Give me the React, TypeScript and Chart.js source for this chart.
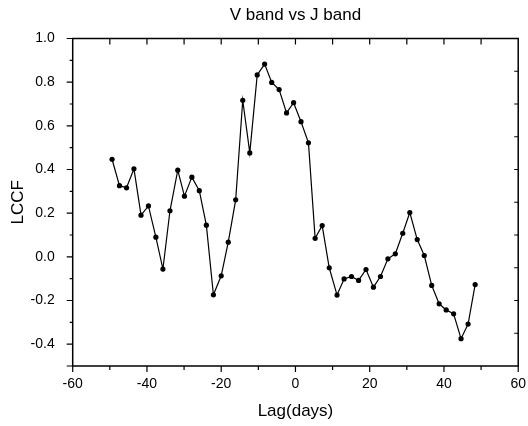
import React, { useEffect, useRef } from "react";
import { Chart, registerables } from "chart.js";

Chart.register(...registerables);

const lags = [-49.4, -47.4, -45.5, -43.5, -41.6, -39.6, -37.6, -35.7, -33.8, -31.7, -29.9, -27.9, -25.9, -24.0, -22.1, -20.0, -18.1, -16.1, -14.2, -12.3, -10.3, -8.3, -6.4, -4.4, -2.4, -0.5, 1.5, 3.5, 5.3, 7.2, 9.1, 11.2, 13.1, 15.1, 17.0, 19.0, 21.0, 22.9, 24.9, 26.9, 28.9, 30.8, 32.8, 34.7, 36.7, 38.7, 40.6, 42.6, 44.6, 46.5, 48.4];
const lccf = [0.447, 0.326, 0.316, 0.403, 0.191, 0.233, 0.090, -0.056, 0.211, 0.397, 0.278, 0.365, 0.303, 0.145, -0.174, -0.087, 0.067, 0.261, 0.717, 0.476, 0.833, 0.883, 0.799, 0.766, 0.659, 0.706, 0.619, 0.522, 0.085, 0.143, -0.050, -0.175, -0.101, -0.090, -0.108, -0.058, -0.139, -0.090, -0.009, 0.014, 0.108, 0.203, 0.079, 0.006, -0.131, -0.215, -0.243, -0.261, -0.375, -0.308, -0.127];
const xTicks = [-60, -40, -20, 0, 20, 40, 60];
const xMinorTicks = [-50, -30, -10, 10, 30, 50];
const yTicks = [-0.4, -0.2, 0.0, 0.2, 0.4, 0.6, 0.8, 1.0];
const yMinorTicks = [-0.3, -0.1, 0.1, 0.3, 0.5, 0.7, 0.9];
const topTicks = [-50, -40, -30, -20, -10, 0, 10, 20, 30, 40, 50];
const rightTicks = [0.85, 0.7, 0.55, 0.4, 0.25, 0.1, -0.05, -0.2, -0.35];
const titleText = "V band vs J band";
const xTitle = "Lag(days)";
const yTitle = "LCCF";

const FONT = "'Liberation Sans', Arial, sans-serif";

const framePlugin = {
  id: "frame",
  afterDraw(chart: any) {
    const { ctx, chartArea, scales } = chart;
    const { left, right, top, bottom } = chartArea;
    const xs = scales.x;
    const ys = scales.y;
    ctx.save();
    ctx.strokeStyle = "#000";
    ctx.lineWidth = 1.5;
    ctx.strokeRect(left, top, right - left, bottom - top);
    ctx.lineWidth = 1.2;
    ctx.beginPath();
    xTicks.forEach((v) => {
      const px = xs.getPixelForValue(v);
      ctx.moveTo(px, bottom);
      ctx.lineTo(px, bottom + 6);
    });
    xMinorTicks.forEach((v) => {
      const px = xs.getPixelForValue(v);
      ctx.moveTo(px, bottom);
      ctx.lineTo(px, bottom + 4);
    });
    [-0.5, ...yTicks].forEach((v) => {
      const py = ys.getPixelForValue(v);
      ctx.moveTo(left, py);
      ctx.lineTo(left - 6, py);
    });
    yMinorTicks.forEach((v) => {
      const py = ys.getPixelForValue(v);
      ctx.moveTo(left, py);
      ctx.lineTo(left - 3, py);
    });
    topTicks.forEach((v) => {
      const px = xs.getPixelForValue(v);
      ctx.moveTo(px, top);
      ctx.lineTo(px, top + 6);
    });
    rightTicks.forEach((v) => {
      const py = ys.getPixelForValue(v);
      ctx.moveTo(right, py);
      ctx.lineTo(right - 4, py);
    });
    ctx.stroke();

    ctx.fillStyle = "#000";
    ctx.font = `17px ${FONT}`;
    ctx.textAlign = "center";
    ctx.textBaseline = "alphabetic";
    ctx.fillText(titleText, (left + right) / 2, 20);

    ctx.font = `17px ${FONT}`;
    ctx.fillText(xTitle, (left + right) / 2, 416);

    ctx.translate(23, (top + bottom) / 2);
    ctx.rotate(-Math.PI / 2);
    ctx.fillText(yTitle, 0, 0);
    ctx.restore();
  },
};

export default function App() {
  const ref = useRef<HTMLCanvasElement | null>(null);
  useEffect(() => {
    if (!ref.current) return;
    const chart = new Chart(ref.current, {
      type: "line",
      data: {
        datasets: [
          {
            data: lags.map((x, i) => ({ x, y: lccf[i] })),
            borderColor: "#000",
            backgroundColor: "#000",
            borderWidth: 1.2,
            pointRadius: 2.6,
            pointBorderWidth: 0,
            pointBackgroundColor: "#000",
            tension: 0,
          },
        ],
      },
      options: {
        animation: false,
        responsive: false,
        devicePixelRatio: 1,
        layout: { padding: { top: 38.5, right: 8, left: 0, bottom: 0 } },
        plugins: { legend: { display: false }, title: { display: false }, tooltip: { enabled: false } },
        scales: {
          x: {
            type: "linear",
            min: -60,
            max: 60,
            grid: { display: false },
            border: { display: false },
            afterBuildTicks: (s: any) => {
              s.ticks = xTicks.map((v) => ({ value: v }));
            },
            afterFit: (s: any) => {
              s.height = 60;
            },
            ticks: {
              color: "#000",
              font: { family: FONT, size: 14 },
              padding: 2,
              maxRotation: 0,
              callback: (v: any) => String(v),
            },
          },
          y: {
            type: "linear",
            min: -0.5,
            max: 1.0,
            grid: { display: false },
            border: { display: false },
            afterBuildTicks: (s: any) => {
              s.ticks = yTicks.map((v) => ({ value: v }));
            },
            afterFit: (s: any) => {
              s.width = 72.7;
            },
            ticks: {
              color: "#000",
              font: { family: FONT, size: 14 },
              padding: 10,
              callback: (v: any) => Number(v).toFixed(1),
            },
          },
        },
      },
      plugins: [framePlugin],
    });
    return () => chart.destroy();
  }, []);
  return (
    <div style={{ position: "fixed", left: 0, top: 0, width: 528, height: 426, background: "#fff" }}>
      <canvas ref={ref} width={528} height={426} />
    </div>
  );
}
